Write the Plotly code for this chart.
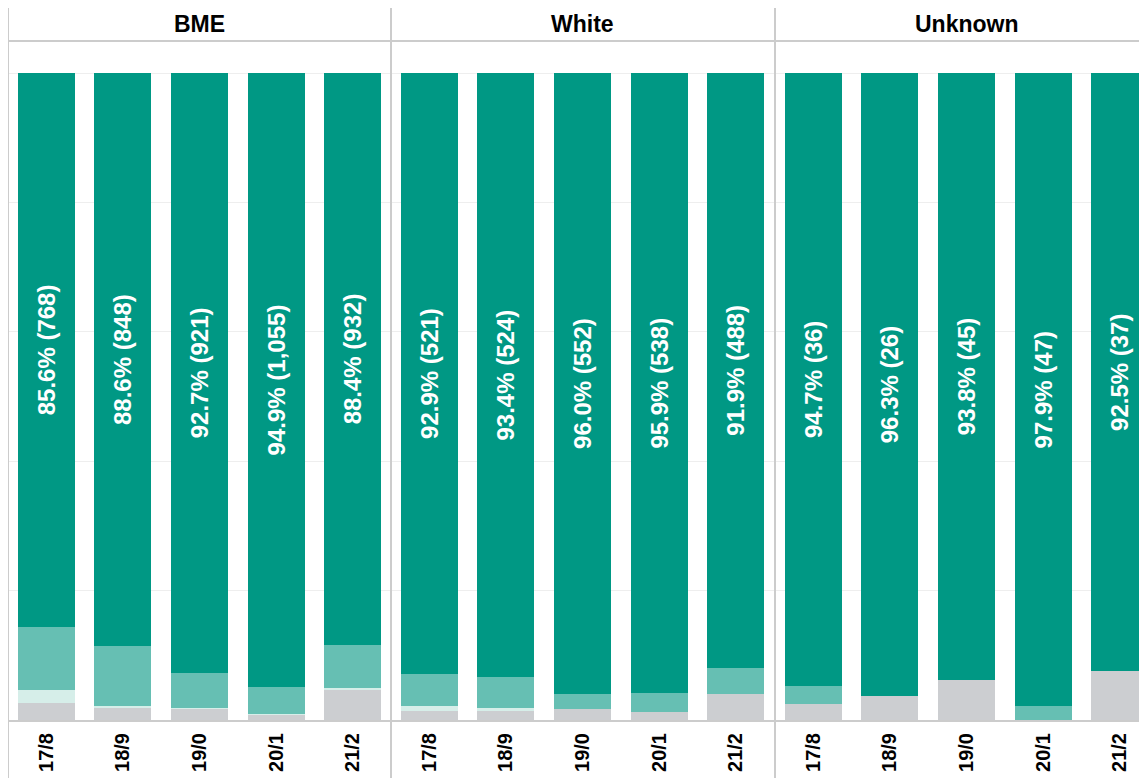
import plotly.graph_objects as go
from plotly.subplots import make_subplots

groups = ["BME", "White", "Unknown"]
years = ["17/8", "18/9", "19/0", "20/1", "21/2"]

# % of each group, stacked bottom -> top: grey, mint, mid teal, dark teal
bme_grey = [2.7, 2.0, 1.7, 0.8, 4.6]
bme_mint = [2.0, 0.2, 0.2, 0.2, 0.4]
bme_mid = [9.7, 9.2, 5.4, 4.1, 6.6]
bme_top = [85.6, 88.6, 92.7, 94.9, 88.4]
bme_n = [768, 848, 921, 1055, 932]

white_grey = [1.4, 1.5, 1.7, 1.2, 4.0]
white_mint = [0.7, 0.3, 0.0, 0.0, 0.0]
white_mid = [5.0, 4.8, 2.3, 2.9, 4.1]
white_top = [92.9, 93.4, 96.0, 95.9, 91.9]
white_n = [521, 524, 552, 538, 488]

unk_grey = [2.5, 3.7, 6.2, 0.0, 7.5]
unk_mint = [0.0, 0.0, 0.0, 0.0, 0.0]
unk_mid = [2.8, 0.0, 0.0, 2.1, 0.0]
unk_top = [94.7, 96.3, 93.8, 97.9, 92.5]
unk_n = [36, 26, 45, 47, 37]

data = [
    (bme_grey, bme_mint, bme_mid, bme_top, bme_n),
    (white_grey, white_mint, white_mid, white_top, white_n),
    (unk_grey, unk_mint, unk_mid, unk_top, unk_n),
]

colors = ["#CCCED1", "#D6EEE9", "#66BFB3", "#009884"]

# page body adds an 8px margin, so the figure itself starts at (8, 8)
W, H = 1139, 770
ml, mt, mb = 0, 33, 58
pw, ph = W - ml, H - mt - mb

# panel edges in figure px (last panel is cut off by the image edge)
edges = [0, 383, 767, 1139]
doms = [((edges[i] - ml) / pw, (edges[i + 1] - ml) / pw) for i in range(3)]
per_cat = (edges[1] - edges[0]) / 5

fig = make_subplots(rows=1, cols=3, shared_yaxes=True, horizontal_spacing=0)

for i, (grey, mint, mid, top, n) in enumerate(data):
    for vals, col in zip([grey, mint, mid], colors[:3]):
        fig.add_trace(go.Bar(x=years, y=vals, marker_color=col, marker_line_width=0,
                             showlegend=False, hoverinfo="skip"), row=1, col=i + 1)
    labels = ["{:.1f}% ({:,})".format(p, c) for p, c in zip(top, n)]
    fig.add_trace(go.Bar(x=years, y=top, marker_color=colors[3], marker_line_width=0,
                         text=labels, textposition="inside", textangle=-90,
                         insidetextanchor="middle", constraintext="none",
                         insidetextfont=dict(color="white", size=24,
                                             family="Liberation Sans, Arial", weight="bold"),
                         showlegend=False, hoverinfo="skip"), row=1, col=i + 1)

ymax = 100 * ph / (712 - 65)
for i in range(3):
    ax = "xaxis" if i == 0 else "xaxis%d" % (i + 1)
    ay = "yaxis" if i == 0 else "yaxis%d" % (i + 1)
    width_cats = (edges[i + 1] - edges[i]) / per_cat
    fig.update_layout(**{
        ax: dict(domain=list(doms[i]), range=[-0.5, -0.5 + width_cats], tickangle=-90,
                 showline=True, linecolor="#CCCCCC", linewidth=2, ticks="",
                 showgrid=False, zeroline=False, ticklabelstandoff=3, automargin=False,
                 tickfont=dict(size=20, color="black", family="Liberation Sans, Arial", weight="bold")),
        ay: dict(range=[0, ymax], dtick=20, showgrid=True, gridcolor="#EEEEEE", gridwidth=1,
                 showticklabels=False, zeroline=False, showline=False, ticks="", automargin=False),
    })
    fig.add_annotation(text=groups[i], xref="paper", yref="paper",
                       x=(edges[i] + 383 / 2 - ml) / pw,
                       y=1 + (mt - 16) / ph, xanchor="center", yanchor="middle", showarrow=False,
                       font=dict(size=23, color="black", family="Liberation Sans, Arial", weight="bold"))

# frame lines: panel separators and header rule
y_top = 1 + mt / ph
y_bot = -mb / ph
for i in range(3):
    fig.add_shape(type="line", xref="paper", yref="paper", x0=doms[i][0], x1=doms[i][0],
                  y0=y_bot, y1=y_top, line=dict(color="#CCCCCC", width=2))
fig.add_shape(type="line", xref="paper", yref="paper", x0=0, x1=1, y0=1, y1=1,
              line=dict(color="#CCCCCC", width=2))

fig.update_layout(
    barmode="stack", bargap=0.255,
    width=W, height=H,
    margin=dict(l=ml, r=0, t=mt, b=mb, pad=0, autoexpand=False),
    plot_bgcolor="white", paper_bgcolor="white",
    font=dict(family="Liberation Sans, Arial"),
)

fig.write_html("out.html")
